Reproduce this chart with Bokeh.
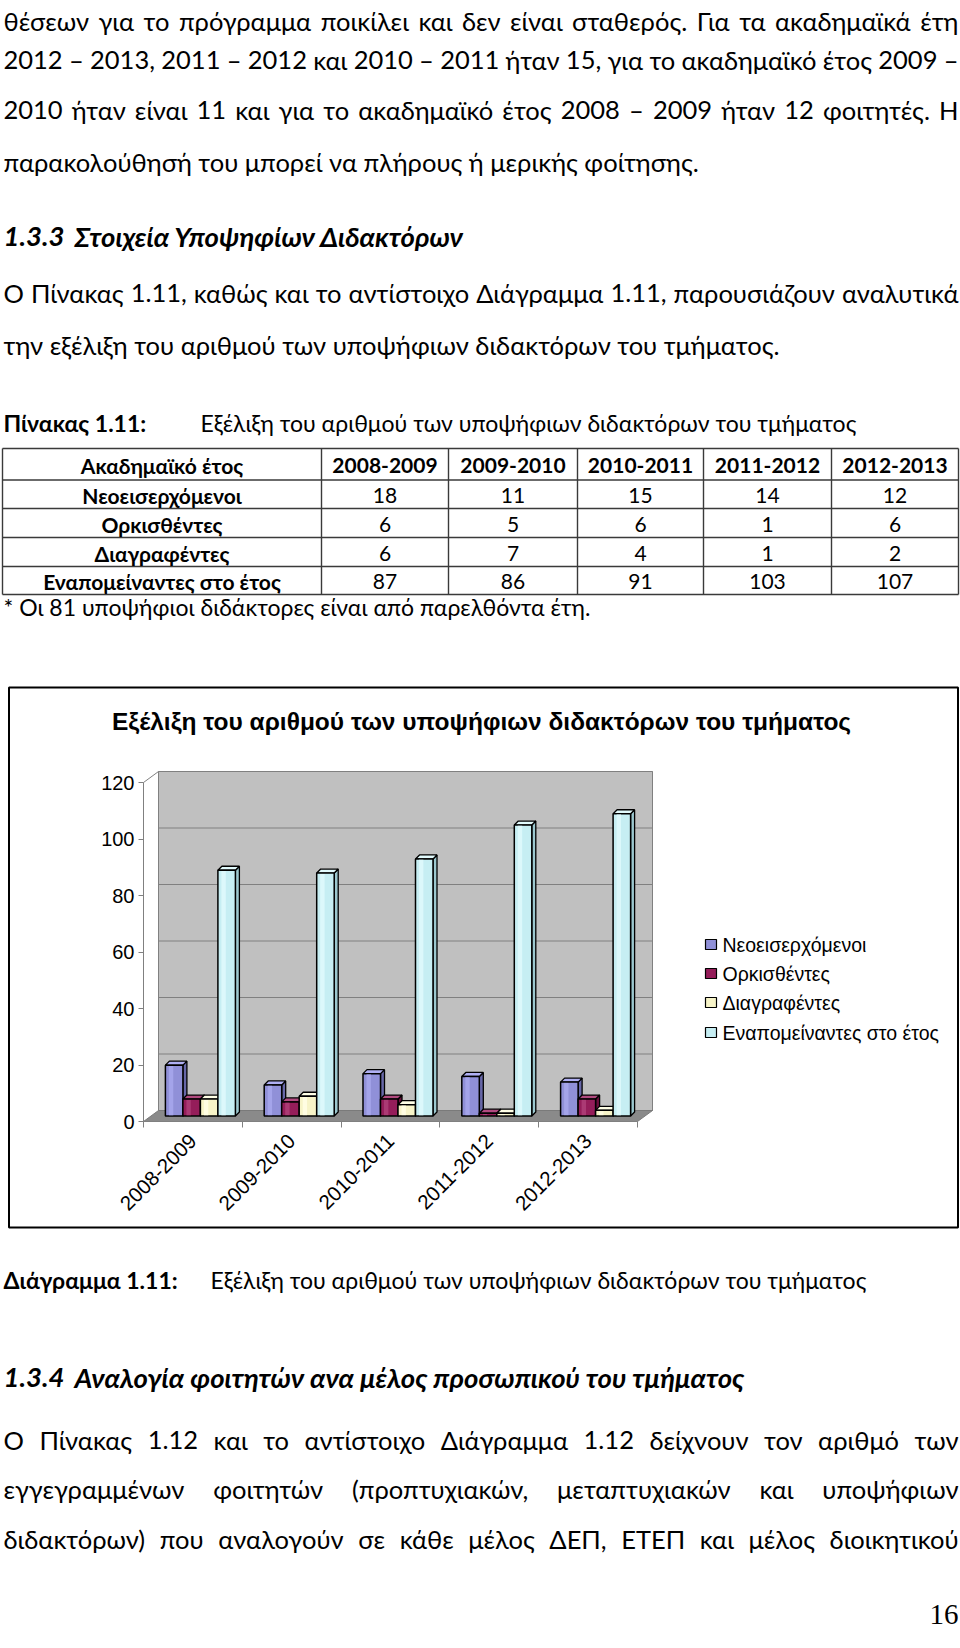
import math
import glob
import os
from bokeh.plotting import figure
from bokeh.models import Range1d, LinearAxis, FixedTicker
from bokeh.core.properties import value
from bokeh.embed import file_html
from bokeh.resources import INLINE

# ---------------- data ----------------
years = ["2008-2009", "2009-2010", "2010-2011", "2011-2012", "2012-2013"]
series_names = ["Νεοεισερχόμενοι", "Ορκισθέντες", "Διαγραφέντες", "Εναπομείναντες στο έτος"]
new_students = [18, 11, 15, 14, 12]
sworn_in = [6, 5, 6, 1, 6]
removed = [6, 7, 4, 1, 2]
remaining = [87, 86, 91, 103, 107]
y_ticks = [0, 20, 40, 60, 80, 100, 120]
table_header = "Ακαδημαϊκό έτος"
series = [new_students, sworn_in, removed, remaining]

# ---------------- text measuring (for justified lines) ----------------
def find_font(name):
    for d in ["/usr/share/fonts", "/usr/local/share/fonts",
              os.path.expanduser("~/.fonts"), os.path.expanduser("~/.local/share/fonts")]:
        hits = glob.glob(os.path.join(d, "**", name), recursive=True)
        if hits:
            return hits[0]
    return None


_FONT = None
try:
    from PIL import ImageFont
    _path = find_font("Lato-Regular.ttf")
    if _path:
        _FONT = ImageFont.truetype(_path, 100)
except Exception:
    _FONT = None


def measure(s, size):
    if _FONT is not None:
        return _FONT.getlength(s) * size / 100.0
    return len(s) * 0.5 * size


# ---------------- page figure ----------------
W, H = 960, 1648
p = figure(width=W, height=H, x_range=Range1d(0, W), y_range=Range1d(H, 0),
           output_backend="svg", toolbar_location=None, min_border=0,
           x_axis_location=None, y_axis_location=None, title=None)
p.grid.visible = False
p.outline_line_color = None
p.background_fill_color = "white"
p.border_fill_color = "white"

BODY = "Lato"
CHART = "Liberation Sans"


def txt(xs, ys, texts, size, font=BODY, style="normal", align="left",
        baseline="alphabetic", color="black", **kw):
    p.text(x=xs, y=ys, text=texts, text_font=value(font),
           text_font_size=value(f"{size}px"), text_font_style=style,
           text_align=align, text_baseline=baseline, text_color=color, **kw)


line4 = "παρακολούθησή του μπορεί να πλήρους ή μερικής φοίτησης."
line7 = "την εξέλιξη του αριθμού των υποψήφιων διδακτόρων του τμήματος."
BS = 25.0
if _FONT is not None:
    r = 0.5 * (684 / measure(line4, 25) + 788 / measure(line7, 25))
    BS = max(23.0, min(28.0, 25 * r))
BS = round(BS, 1)


def justify(line, y, size, x0=3, x1=958):
    words = line.split(" ")
    ws = [measure(w, size) for w in words]
    gap = (x1 - x0 - sum(ws)) / (len(words) - 1)
    if gap < 5:
        size = size * (x1 - x0 - 5 * (len(words) - 1)) / sum(ws)
        ws = [measure(w, size) for w in words]
        gap = (x1 - x0 - sum(ws)) / (len(words) - 1)
    xs, x = [], x0
    for w in ws[:-1]:
        xs.append(x)
        x += w + gap
    txt(xs, [y] * len(xs), words[:-1], round(size, 1))
    txt([x1], [y], [words[-1]], round(size, 1), align="right")


# ---- top paragraphs ----
justify("θέσεων για το πρόγραμμα ποικίλει και δεν είναι σταθερός. Για τα ακαδημαϊκά έτη", 20, BS)
justify("2012 – 2013, 2011 – 2012 και 2010 – 2011 ήταν 15, για το ακαδημαϊκό έτος 2009 –", 59, BS)
justify("2010 ήταν είναι 11 και για το ακαδημαϊκό έτος 2008 – 2009 ήταν 12 φοιτητές. Η", 109, BS)
txt([3], [161], [line4], BS)
justify("Ο Πίνακας 1.11, καθώς και το αντίστοιχο Διάγραμμα 1.11, παρουσιάζουν αναλυτικά", 292, BS)
txt([3], [344], [line7], BS)

# headings
HS = 27.5
txt([3, 74], [236, 236], ["1.3.3", "Στοιχεία Υποψηφίων Διδακτόρων"], HS, style="bold italic")
txt([3, 74], [1377, 1377], ["1.3.4", "Αναλογία φοιτητών ανα μέλος προσωπικού του τμήματος"], HS,
    style="bold italic")

# captions
CS = 23
txt([3], [422], ["Πίνακας 1.11:"], CS, style="bold")
txt([200], [422], ["Εξέλιξη του αριθμού των υποψήφιων διδακτόρων του τμήματος"], CS)
txt([3], [1279], ["Διάγραμμα 1.11:"], CS, style="bold")
txt([210], [1279], ["Εξέλιξη του αριθμού των υποψήφιων διδακτόρων του τμήματος"], CS)

# ---- table ----
col_edges = [2, 321, 448, 577, 703, 831, 958]
row_edges = [448, 479.5, 508, 537, 566, 594]
p.segment(x0=[col_edges[0]] * len(row_edges), x1=[col_edges[-1]] * len(row_edges),
          y0=row_edges, y1=row_edges, line_color="#3a3a3a", line_width=1.4)
p.segment(x0=col_edges, x1=col_edges, y0=[row_edges[0]] * len(col_edges),
          y1=[row_edges[-1]] * len(col_edges), line_color="#3a3a3a", line_width=1.4)
ccx = [(col_edges[i] + col_edges[i + 1]) / 2 for i in range(6)]
rcy = [(row_edges[i] + row_edges[i + 1]) / 2 + 1 for i in range(5)]
TS = 21
txt([ccx[0]] * 5, rcy, [table_header] + series_names, TS, style="bold", align="center", baseline="middle")
txt(ccx[1:], [rcy[0]] * 5, years, TS, style="bold", align="center", baseline="middle")
cx, cy, ct = [], [], []
for r_i, vals in enumerate(series):
    for c, v in enumerate(vals):
        cx.append(ccx[c + 1]); cy.append(rcy[r_i + 1]); ct.append(str(v))
txt(cx, cy, ct, TS, align="center", baseline="middle")
txt([3], [606], ["* Οι 81 υποψήφιοι διδάκτορες είναι από παρελθόντα έτη."], CS)

# ---- last paragraph (justified) ----
justify("Ο Πίνακας 1.12 και το αντίστοιχο Διάγραμμα 1.12 δείχνουν τον αριθμό των", 1439, BS)
justify("εγγεγραμμένων φοιτητών (προπτυχιακών, μεταπτυχιακών και υποψήφιων", 1488, BS)
justify("διδακτόρων) που αναλογούν σε κάθε μέλος ΔΕΠ, ΕΤΕΠ και μέλος διοικητικού", 1538, BS)

# page number
txt([958], [1614], ["16"], 29, font="Liberation Serif", align="right")

# ---------------- chart ----------------
p.quad(left=[8.5], right=[957.5], top=[687], bottom=[1227], fill_color=None,
       line_color="black", line_width=2)
txt([481], [721], ["Εξέλιξη του αριθμού των υποψήφιων διδακτόρων του τμήματος"], 24.5,
    font=CHART, style="bold", align="center", baseline="middle")

# data scales mapped onto the page
X0, CW = 143.0, 98.8      # px of front-left axis, px per category
Y0, VU = 1121.0, 2.825    # px of value 0, px per unit
p.extra_x_ranges = {"cat": Range1d(0.5 - X0 / CW, 0.5 + (W - X0) / CW)}
p.extra_y_ranges = {"val": Range1d((Y0 - H) / VU, Y0 / VU)}
R = dict(x_range_name="cat", y_range_name="val")

n = len(years)
ymax = y_ticks[-1]
dxD, dyD = 15 / CW, 11 / VU          # depth of the 3D box
mx, my = dxD / 2, dyD / 2            # bars sit at mid depth
bw = 17.5 / CW                       # bar width
bdx, bdy = 4 / CW, 4 / VU            # bar depth
left_c, right_c = 0.5, n + 0.5

# back wall
p.quad(left=[left_c + dxD], right=[right_c + dxD], bottom=[dyD], top=[ymax + dyD],
       fill_color="#c0c0c0", line_color="#808080", line_width=1, **R)
p.segment(x0=[left_c + dxD] * len(y_ticks), x1=[right_c + dxD] * len(y_ticks),
          y0=[t + dyD for t in y_ticks], y1=[t + dyD for t in y_ticks],
          line_color="#808080", line_width=1, **R)
p.segment(x0=[left_c], x1=[left_c + dxD], y0=[ymax], y1=[ymax + dyD],
          line_color="#808080", line_width=1, **R)
# floor
p.patch(x=[left_c, right_c, right_c + dxD, left_c + dxD], y=[0, 0, dyD, dyD],
        fill_color="#8a8a8a", line_color="#7a7a7a", line_width=1, **R)

front = ["#9090d8", "#951d5a", "#f7f4c8", "#c6eef3"]
hilite = ["#a4a4ea", "#ab3a74", "#fffde2", "#dcf8fb"]
side = ["#6767a8", "#6a0d3c", "#cdc9a0", "#9cc8cf"]
topc = ["#b0b0f4", "#b24a80", "#ffffe6", "#e2fbfd"]

for k, vals in enumerate(series):
    lefts = [i + 1 - 2 * bw + k * bw + mx for i in range(n)]
    rights = [l + bw for l in lefts]
    tops = [my + v for v in vals]
    sx = [[rr, rr + bdx, rr + bdx, rr] for rr in rights]
    sy = [[my, my + bdy, t + bdy, t] for t in tops]
    p.patches(xs=sx, ys=sy, fill_color=side[k], line_color="black", line_width=1.3, **R)
    tx = [[l, rr, rr + bdx, l + bdx] for l, rr in zip(lefts, rights)]
    ty = [[t, t, t + bdy, t + bdy] for t in tops]
    p.patches(xs=tx, ys=ty, fill_color=topc[k], line_color="black", line_width=1.3, **R)
    p.quad(left=lefts, right=rights, bottom=[my] * n, top=tops,
           fill_color=front[k], line_color="black", line_width=1.5, **R)
    p.quad(left=[l + 0.2 * bw for l in lefts], right=[l + 0.45 * bw for l in lefts],
           bottom=[my + 0.3] * n, top=[t - 0.3 for t in tops],
           fill_color=hilite[k], line_color=None, **R)

# axes (library axes at fixed data locations)
yax = LinearAxis(x_range_name="cat", y_range_name="val", fixed_location=left_c,
                 bounds=(0, ymax), ticker=FixedTicker(ticks=y_ticks),
                 axis_line_color="#808080", major_tick_line_color="#808080",
                 major_tick_out=5, major_tick_in=0, minor_tick_line_color=None,
                 major_label_text_font=CHART, major_label_text_font_size="20px",
                 major_label_standoff=4, major_label_text_color="black")
p.add_layout(yax, "left")

xax = LinearAxis(x_range_name="cat", y_range_name="val", fixed_location=0,
                 bounds=(left_c, right_c),
                 ticker=FixedTicker(ticks=list(range(1, n + 1)),
                                    minor_ticks=[i + 0.5 for i in range(n + 1)]),
                 major_label_overrides={i + 1: y for i, y in enumerate(years)},
                 major_label_orientation=math.pi / 4,
                 axis_line_color="#808080", major_tick_line_color=None,
                 major_tick_out=0, major_tick_in=0,
                 minor_tick_line_color="#808080", minor_tick_out=6, minor_tick_in=0,
                 major_label_text_font=CHART, major_label_text_font_size="20.5px",
                 major_label_standoff=10, major_label_text_color="black")
p.add_layout(xax, "below")

# legend
leg_y = [944, 973, 1002, 1032]
p.rect(x=[710.5] * 4, y=leg_y, width=11, height=10, fill_color=front,
       line_color="black", line_width=1.2)
txt([722] * 4, leg_y, series_names, 19.5, font=CHART, baseline="middle")

open("out.html", "w").write(file_html(p, INLINE))
